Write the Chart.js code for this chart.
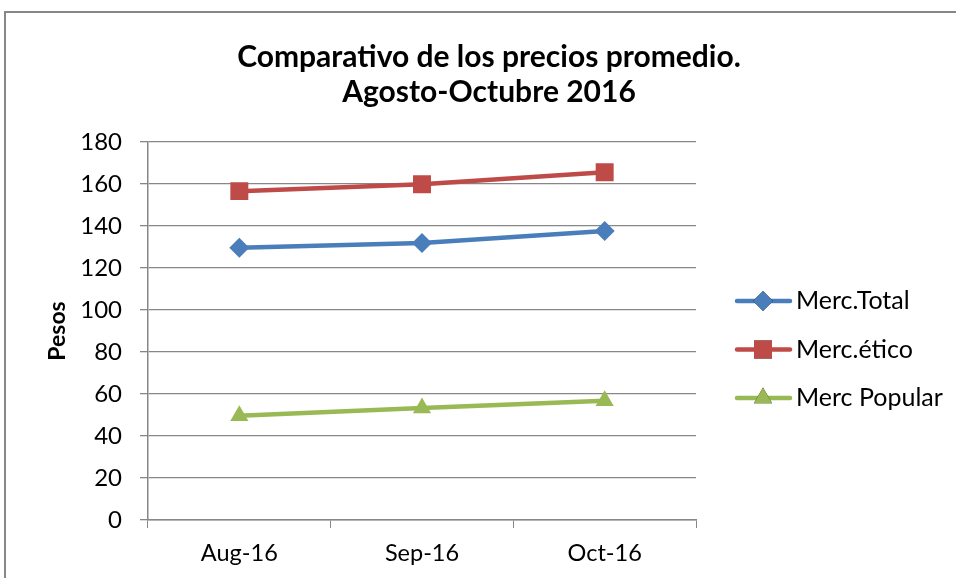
<!DOCTYPE html>
<html>
<head>
<meta charset="utf-8">
<script src="https://cdn.jsdelivr.net/npm/chart.js@4"></script>
<style>
  body { margin: 0; background: #fff; }
  #wrap { width: 956px; height: 578px; position: relative; }
</style>
</head>
<body>
<div id="wrap"><canvas id="grafico"></canvas></div>
<script>
// datos
const categorias = ['Aug-16', 'Sep-16', 'Oct-16'];
const mercTotal = [129.7, 131.9, 137.6];
const mercEtico = [156.6, 159.9, 165.6];
const mercPopular = [49.6, 53.3, 56.8];
const ticksY = [0, 20, 40, 60, 80, 100, 120, 140, 160, 180];
const tituloLineas = ['Comparativo de los precios promedio.', 'Agosto-Octubre 2016'];

const FUENTE = 'Lato, "Open Sans", sans-serif';
const GRIS = '#878787';

// marco del gráfico y título
const marcoTitulo = {
    id: 'marcoTitulo',
    beforeDraw(chart) {
        const ctx = chart.ctx;
        ctx.save();
        ctx.strokeStyle = GRIS;
        ctx.lineWidth = 2;
        ctx.strokeRect(5, 12, 1200, 1200);
        ctx.restore();
    },
    afterDraw(chart) {
        const ctx = chart.ctx;
        ctx.save();
        ctx.fillStyle = '#000';
        ctx.font = 'bold 30px ' + FUENTE;
        ctx.textAlign = 'center';
        ctx.textBaseline = 'middle';
        ctx.fillText(tituloLineas[0], 489, 57);
        ctx.fillText(tituloLineas[1], 489, 92);
        ctx.restore();
    }
};

// leyenda a la derecha: línea con marcador
const leyenda = {
    id: 'leyenda',
    afterDraw(chart) {
        const ctx = chart.ctx;
        ctx.save();
        chart.data.datasets.forEach((ds, i) => {
            const y = 301 + i * 48.5;
            ctx.strokeStyle = ds.borderColor;
            ctx.lineWidth = 4.5;
            ctx.lineCap = 'round';
            ctx.beginPath();
            ctx.moveTo(737, y);
            ctx.lineTo(790, y);
            ctx.stroke();
            Chart.helpers.drawPoint(ctx, {
                pointStyle: ds.pointStyle,
                radius: ds.pointRadius,
                borderWidth: 0
            }, 763, y);
            ctx.fillStyle = ds.borderColor;
            ctx.fill();
            ctx.fillStyle = '#000';
            ctx.font = '25px ' + FUENTE;
            ctx.textAlign = 'left';
            ctx.textBaseline = 'middle';
            ctx.fillText(ds.label, 796, y);
        });
        ctx.restore();
    }
};

const ctx = document.getElementById('grafico').getContext('2d');
new Chart(ctx, {
    type: 'line',
    data: {
        labels: categorias,
        datasets: [
            { label: 'Merc.Total', data: mercTotal, borderColor: '#4A7EBB', backgroundColor: '#4A7EBB',
              pointStyle: 'rectRot', pointRadius: 10 },
            { label: 'Merc.ético', data: mercEtico, borderColor: '#BE4B48', backgroundColor: '#BE4B48',
              pointStyle: 'rect', pointRadius: 12.7 },
            { label: 'Merc Popular', data: mercPopular, borderColor: '#98B954', backgroundColor: '#98B954',
              pointStyle: 'triangle', pointRadius: 10.5 }
        ].map(d => Object.assign(d, { borderWidth: 4.5, pointBorderWidth: 0, tension: 0 }))
    },
    options: {
        responsive: true,
        maintainAspectRatio: false,
        animation: false,
        layout: { padding: { top: 142, right: 260, left: 40, bottom: 0 } },
        plugins: {
            legend: { display: false },
            title: { display: false },
            tooltip: { enabled: false }
        },
        scales: {
            x: {
                offset: true,
                grid: { display: true, offset: true, drawOnChartArea: false, drawTicks: true, tickLength: 8, color: GRIS },
                border: { color: GRIS, width: 1.5 },
                ticks: { color: '#000', font: { family: FUENTE, size: 23.5 }, padding: 11 },
                afterFit: s => { s.height = 58; }
            },
            y: {
                min: 0,
                max: 180,
                afterBuildTicks: s => { s.ticks = ticksY.map(v => ({ value: v })); },
                grid: { color: GRIS, lineWidth: 1.3, tickLength: 8 },
                border: { color: GRIS, width: 1.5 },
                ticks: { color: '#000', font: { family: FUENTE, size: 24 }, padding: 18 },
                title: { display: true, text: 'Pesos', color: '#000', font: { family: FUENTE, size: 23, weight: 'bold' }, padding: { top: 4, bottom: 0 } },
                afterFit: s => { s.width = 108; }
            }
        }
    },
    plugins: [marcoTitulo, leyenda]
});
</script>
</body>
</html>
